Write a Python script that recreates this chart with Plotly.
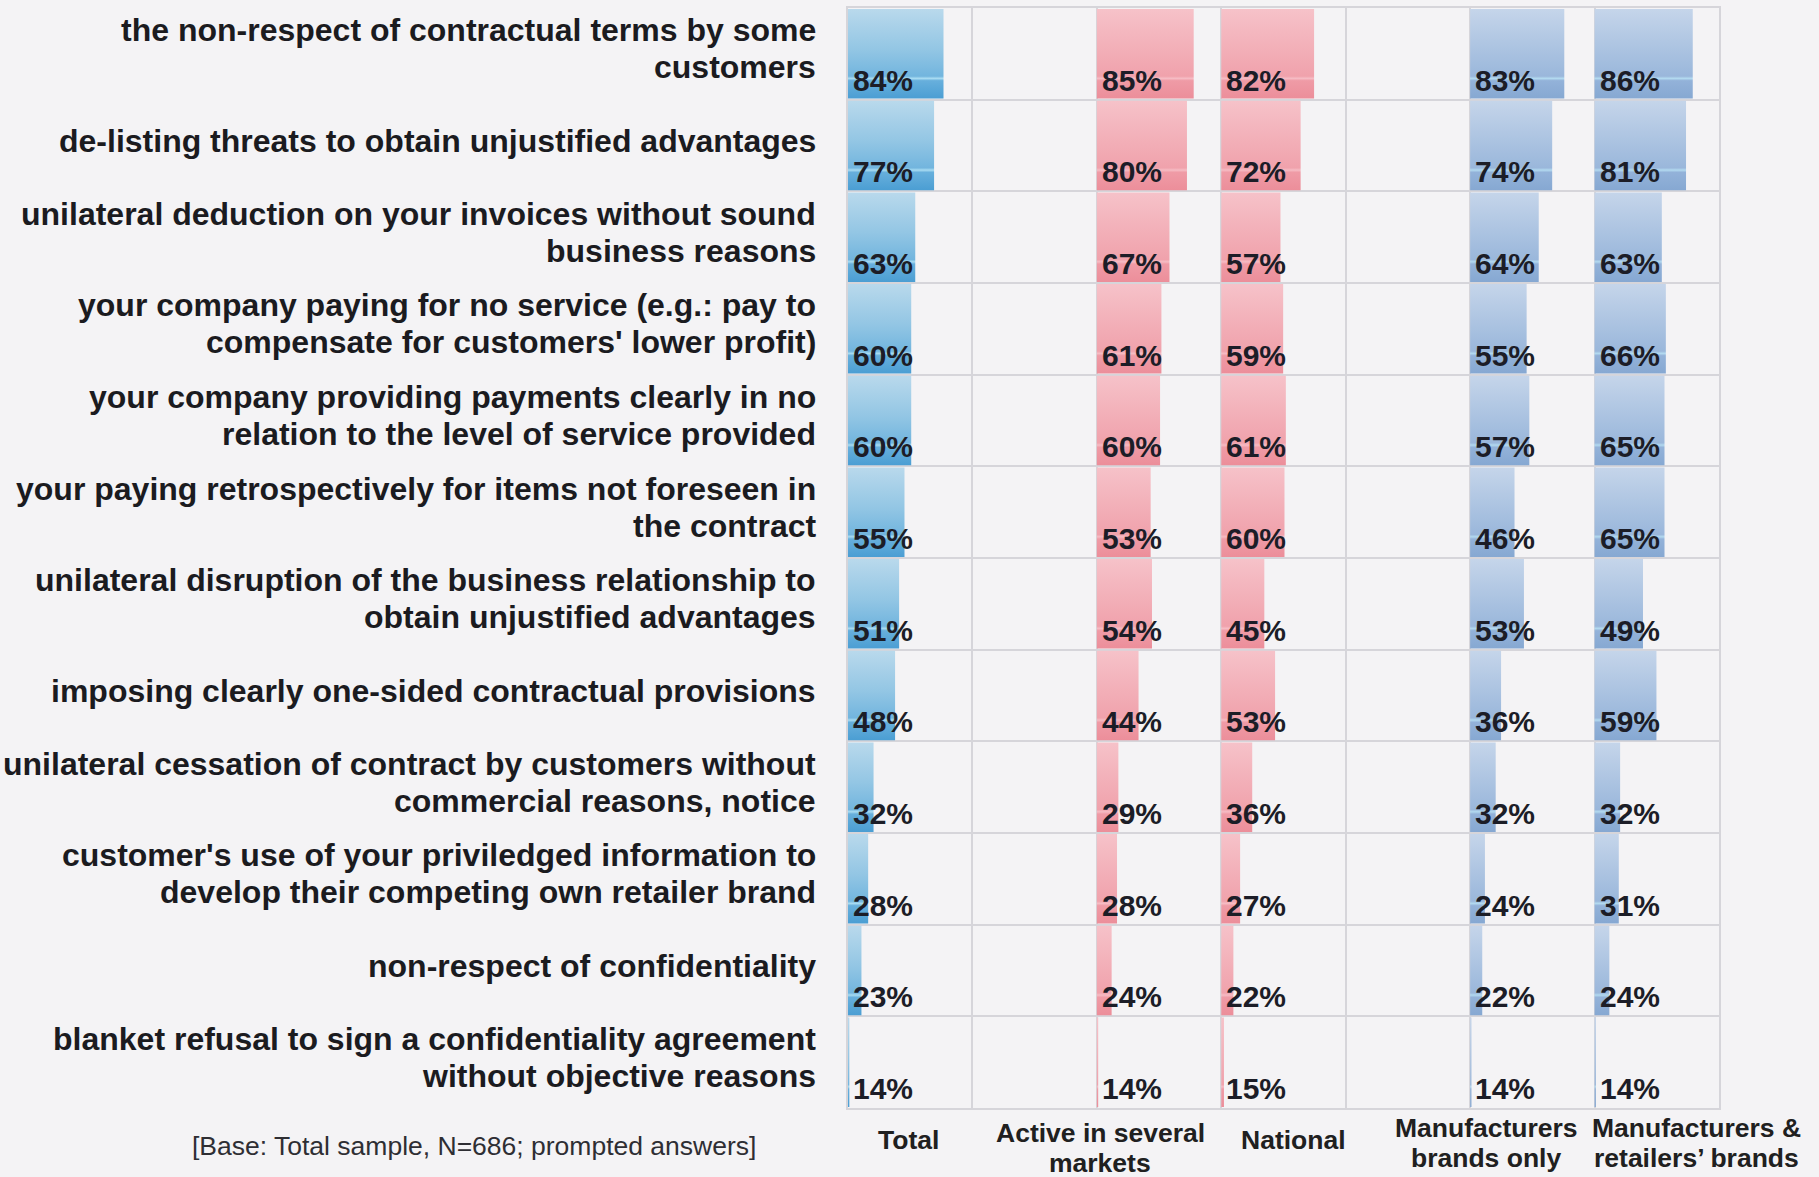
import plotly.graph_objects as go

# ---- data -----------------------------------------------------------------
categories = [
    "the non-respect of contractual terms by some<br>customers",
    "de-listing threats to obtain unjustified advantages",
    "unilateral deduction on your invoices without sound<br>business reasons",
    "your company paying for no service (e.g.: pay to<br>compensate for customers' lower profit)",
    "your company providing payments clearly in no<br>relation to the level of service provided",
    "your paying retrospectively for items not foreseen in<br>the contract",
    "unilateral disruption of the business relationship to<br>obtain unjustified advantages",
    "imposing clearly one-sided contractual provisions",
    "unilateral cessation of contract by customers without<br>commercial reasons, notice",
    "customer's use of your priviledged information to<br>develop their competing own retailer brand",
    "non-respect of confidentiality",
    "blanket refusal to sign a confidentiality agreement<br>without objective reasons",
]

series_names = [
    "Total",
    "Active in several<br>markets",
    "National",
    "Manufacturers<br>brands only",
    "Manufacturers &<br>retailers’ brands",
]

total = [84, 77, 63, 60, 60, 55, 51, 48, 32, 28, 23, 14]
active_several = [85, 80, 67, 61, 60, 53, 54, 44, 29, 28, 24, 14]
national = [82, 72, 57, 59, 61, 60, 45, 53, 36, 27, 22, 15]
manuf_only = [83, 74, 64, 55, 57, 46, 53, 36, 32, 24, 22, 14]
manuf_retail = [86, 81, 63, 66, 65, 65, 49, 59, 32, 31, 24, 14]

note = "[Base: Total sample, N=686; prompted answers]"

# ---- styling --------------------------------------------------------------
W, H = 1819, 1177
BG = "#f4f3f5"
GRID = "#d6d5da"
TXT = "#1c1d27"
FONT = "Liberation Sans, Arial, sans-serif"

BLUE = [[0.0, "#4b9ed3"], [0.2, "#67afdc"], [0.225, "#a9dcf2"], [0.25, "#72b5de"],
        [0.55, "#93c6e4"], [1.0, "#b9d9ec"]]
RED = [[0.0, "#ec8e9a"], [0.2, "#ef9ba6"], [0.225, "#f6bcc4"], [0.25, "#f0a2ac"],
       [1.0, "#f6c2c9"]]
SLATE = [[0.0, "#86a8d2"], [0.2, "#93b2d9"], [0.225, "#b3daf0"], [0.25, "#9ab7db"],
         [1.0, "#c5d5ea"]]

# grid column index and colour ramp for each series (columns 1 and 4 stay empty)
series = [
    (total, 0, BLUE),
    (active_several, 2, RED),
    (national, 3, RED),
    (manuf_only, 5, SLATE),
    (manuf_retail, 6, SLATE),
]

N_COLS = 7
n_rows = len(categories)

# table box in pixels
TX0, TX1 = 848, 1719
TY0, TY1 = 8, 1108
col_w = (TX1 - TX0) / N_COLS
row_h = (TY1 - TY0) / n_rows


def px_x(p):
    return p / W


def px_y(p):
    return 1 - p / H


X_MIN, X_MAX = 13.0, 13.0 + col_w / 1.345

fig = go.Figure()

# empty trace so the table grid subplot (x/y) gets drawn
fig.add_trace(go.Scatter(x=[None], y=[None], xaxis="x", yaxis="y", mode="markers",
                         hoverinfo="skip"))

layout = dict(
    width=W, height=H,
    margin=dict(l=0, r=0, t=0, b=0),
    paper_bgcolor=BG, plot_bgcolor="rgba(0,0,0,0)",
    showlegend=False,
    font=dict(family=FONT, color=TXT),
    # background grid of the table
    xaxis=dict(domain=[px_x(TX0), px_x(TX1)], range=[0, N_COLS], tickvals=list(range(1, N_COLS)),
               showgrid=True, gridcolor=GRID, gridwidth=1.5, showticklabels=False, ticks="",
               zeroline=False, showline=True, linecolor=GRID, linewidth=1.5, mirror=True,
               fixedrange=True, layer="below traces"),
    yaxis=dict(domain=[px_y(TY1), px_y(TY0)], range=[0, n_rows], tickvals=list(range(1, n_rows)),
               showgrid=True, gridcolor=GRID, gridwidth=1.5, showticklabels=False, ticks="",
               zeroline=False, showline=True, linecolor=GRID, linewidth=1.5, mirror=True,
               fixedrange=True, layer="below traces"),
    # shared row axis for the bars
    yaxis2=dict(domain=[px_y(TY1), px_y(TY0)], range=[-0.5, n_rows - 0.5], visible=False,
                anchor="x2", fixedrange=True),
)

annotations = []

for k, (vals, col, cscale) in enumerate(series):
    ax = k + 2
    x0 = TX0 + col * col_w
    layout[f"xaxis{ax}"] = dict(domain=[px_x(x0), px_x(x0 + col_w)], range=[X_MIN, X_MAX],
                                visible=False, anchor="y2", fixedrange=True)
    for i, v in enumerate(vals):
        yc = n_rows - 1 - i
        yb, yt = yc - 0.488, yc + 0.488
        fig.add_trace(go.Scatter(
            x=[0, v, v, 0, 0], y=[yb, yb, yt, yt, yb],
            xaxis=f"x{ax}", yaxis="y2",
            mode="lines", line=dict(width=0, color="rgba(0,0,0,0)"),
            fill="toself",
            fillgradient=dict(type="vertical", colorscale=cscale, start=yb, stop=yt),
            hoverinfo="skip",
        ))
        annotations.append(dict(
            xref=f"x{ax}", yref="y2", x=X_MIN, y=yc - 0.5,
            xanchor="left", yanchor="bottom", xshift=3, yshift=1,
            text=f"{v}%", showarrow=False,
            font=dict(size=30, weight="bold", color=TXT),
        ))

# row labels, right aligned to the left of the table
LINE_GAP = 37 / row_h
for i, lab in enumerate(categories):
    yc = n_rows - 1 - i + 5 / row_h
    lines = lab.split("<br>")
    nl = len(lines)
    for j, ln in enumerate(lines):
        y = yc + ((nl - 1) / 2 - j) * LINE_GAP
        annotations.append(dict(
            xref="paper", yref="y2", x=px_x(818), y=y,
            xanchor="right", yanchor="middle", text=ln, showarrow=False,
            font=dict(size=32, weight="bold", color="#1b1b1f"),
        ))

# column captions under the table
caption_pos = [(908, 1140), (1100, 1133), (1293, 1140), (1486, 1128), (1696, 1128)]
for name, (cx, cy) in zip(series_names, caption_pos):
    for j, ln in enumerate(name.split("<br>")):
        annotations.append(dict(
            xref="paper", yref="paper", x=px_x(cx), y=px_y(cy + j * 29.5),
            xanchor="center", yanchor="middle", text=ln, showarrow=False,
            font=dict(size=26.5, weight="bold", color="#202020"),
        ))

annotations.append(dict(
    xref="paper", yref="paper", x=px_x(474), y=px_y(1146),
    xanchor="center", yanchor="middle", text=note, showarrow=False,
    font=dict(size=26.5, color="#2e2e33"),
))

layout["annotations"] = annotations
fig.update_layout(**layout)

fig.write_html("out.html")
